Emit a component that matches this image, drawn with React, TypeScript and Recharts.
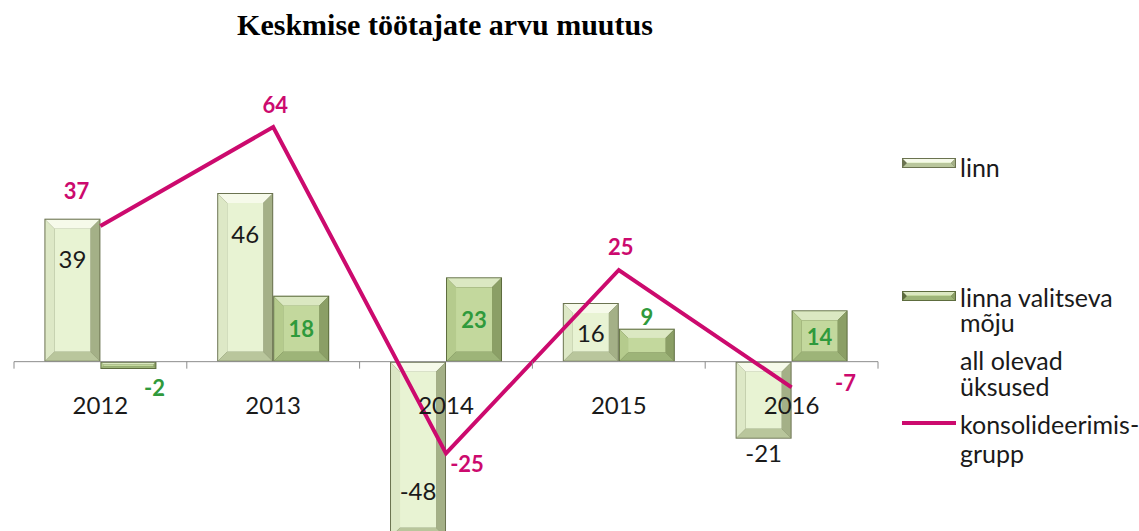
import React from 'react';
import { ComposedChart, Bar, Line, XAxis, YAxis, ReferenceLine, LabelList } from 'recharts';

const years = ['2012', '2013', '2014', '2015', '2016'];
const linn = [39, 46, -48, 16, -21];
const moju = [-2, 18, 23, 9, 14];
const konso = [37, 64, -25, 25, -7];
const axisZero = [0, 0, 0, 0, 0];

const data = years.map((y, i) => ({ year: y, linn: linn[i], moju: moju[i], konso: konso[i], zero: axisZero[i] }));

const W = 1139;
const H = 560;
const MARGIN = { top: 105, right: 261, bottom: 15, left: 14 };
const DOMAIN: [number, number] = [-50, 70];
const FONT = 'Lato, "Noto Sans", sans-serif';
const MAGENTA = '#cc0a6e';
const GREEN_TXT = '#2f9a3c';

const palettes = {
  linn: { edge: '#6b7350', face: '#e8f3d3', top: '#f6faea', left: '#dde8c6', right: '#a4b087', bottom: '#b9c69c' },
  moju: { edge: '#5d6c3e', face: '#c3d89d', top: '#dbe8c2', left: '#b5cb8d', right: '#8b9f66', bottom: '#9db478' },
};

const makeBevel = (p: any) => (props: any) => {
  let { x, y, width, height } = props;
  if (height < 0) { y = y + height; height = -height; }
  if (!width || !height) return null;
  const b = Math.max(1, Math.min(9, width / 4, height / 4));
  const x2 = x + width, y2 = y + height;
  return (
    <g>
      <rect x={x} y={y} width={width} height={height} fill={p.edge} />
      <polygon points={`${x + 1},${y + 1} ${x2 - 1},${y + 1} ${x2 - 1 - b},${y + 1 + b} ${x + 1 + b},${y + 1 + b}`} fill={p.top} />
      <polygon points={`${x + 1},${y + 1} ${x + 1 + b},${y + 1 + b} ${x + 1 + b},${y2 - 1 - b} ${x + 1},${y2 - 1}`} fill={p.left} />
      <polygon points={`${x2 - 1},${y + 1} ${x2 - 1},${y2 - 1} ${x2 - 1 - b},${y2 - 1 - b} ${x2 - 1 - b},${y + 1 + b}`} fill={p.right} />
      <polygon points={`${x + 1},${y2 - 1} ${x2 - 1},${y2 - 1} ${x2 - 1 - b},${y2 - 1 - b} ${x + 1 + b},${y2 - 1 - b}`} fill={p.bottom} />
      <rect x={x + 1 + b} y={y + 1 + b} width={Math.max(0, width - 2 - 2 * b)} height={Math.max(0, height - 2 - 2 * b)} fill={p.face} />
    </g>
  );
};

const norm = (props: any) => {
  let { x, y, width, height } = props;
  if (height < 0) { y = y + height; height = -height; }
  return { x, y, width, height };
};

const LinnLabel = (props: any) => {
  const { value } = props;
  const { x, y, width, height } = norm(props);
  let cy: number;
  if (value >= 0) cy = y + Math.min(40, height / 2);
  else if (height > 100) cy = y + height - 47;
  else cy = y + height + 14;
  return (
    <text x={x + width / 2} y={cy} textAnchor="middle" dominantBaseline="central" fontFamily={FONT} fontSize={24} fill="#1a1a1a">
      {value}
    </text>
  );
};

const MojuLabel = (props: any) => {
  const { value } = props;
  const { x, y, width, height } = norm(props);
  let cy: number;
  if (height > 40) cy = y + height / 2;
  else if (value >= 0) cy = y - 12;
  else cy = y + height + 18;
  const cx = value < 0 ? x + width - 2 : x + width / 2;
  return (
    <text x={cx} y={cy} textAnchor="middle" dominantBaseline="central" fontFamily={FONT} fontWeight="bold" fontSize={22} fill={GREEN_TXT}>
      {value}
    </text>
  );
};

const lineLabelOffsets = [
  { dx: -24, dy: -36 },
  { dx: 2, dy: -23 },
  { dx: 21, dy: 10 },
  { dx: 2, dy: -24 },
  { dx: 54, dy: -5 },
];

const KonsoLabel = (props: any) => {
  const { x, y, value, index } = props;
  const o = lineLabelOffsets[index] || { dx: 0, dy: -20 };
  return (
    <text x={x + o.dx} y={y + o.dy} textAnchor="middle" dominantBaseline="central" fontFamily={FONT} fontWeight="bold" fontSize={22} fill={MAGENTA}>
      {value}
    </text>
  );
};

const plotW = W - MARGIN.left - MARGIN.right;
const halfBand = plotW / years.length / 2;

const AxisLabel = (props: any) => {
  const { x, y, index } = props;
  const isLast = index === years.length - 1;
  return (
    <g>
      <line x1={x - halfBand} x2={x - halfBand} y1={y} y2={y + 7} stroke="#8c8c8c" strokeWidth={1} />
      {isLast && <line x1={x + halfBand} x2={x + halfBand} y1={y} y2={y + 7} stroke="#8c8c8c" strokeWidth={1} />}
      <text x={x} y={y + 43} textAnchor="middle" dominantBaseline="central" fontFamily={FONT} fontSize={24} fill="#1a1a1a">
        {years[index]}
      </text>
    </g>
  );
};

const LegendIcon = ({ p }: any) => (
  <svg width={54} height={12} style={{ display: 'block' }}>
    <rect x={0} y={1} width={54} height={10} fill={p.edge} />
    <polygon points="1,2 53,2 49,6 5,6" fill={p.top} />
    <rect x={5} y={5} width={44} height={2} fill={p.face} />
    <polygon points="1,10 53,10 49,6 5,6" fill={p.bottom} />
    <polygon points="53,2 53,10 49,6" fill={p.right} />
  </svg>
);

const LegendBox = () => {
  const txt: React.CSSProperties = { fontFamily: FONT, fontSize: 25, color: '#1a1a1a', position: 'absolute', left: 58, whiteSpace: 'pre', lineHeight: '25px' };
  return (
    <div style={{ position: 'absolute', left: 902, top: 140, width: 237, height: 340 }}>
      <div style={{ position: 'absolute', left: 0, top: 17 }}><LegendIcon p={palettes.linn} /></div>
      <div style={{ ...txt, top: 15 }}>linn</div>
      <div style={{ position: 'absolute', left: 0, top: 150 }}><LegendIcon p={palettes.moju} /></div>
      <div style={{ ...txt, top: 145 }}>{'linna valitseva\nmõju'}</div>
      <div style={{ ...txt, top: 207, lineHeight: '26px' }}>{'all olevad\nüksused'}</div>
      <div style={{ position: 'absolute', left: 0, top: 281, width: 54, height: 4, background: MAGENTA }} />
      <div style={{ ...txt, top: 270, lineHeight: '29px' }}>{'konsolideerimis-\ngrupp'}</div>
    </div>
  );
};

export default function App() {
  return (
    <div style={{ position: 'fixed', left: 0, top: 0, width: W, height: 531, overflow: 'hidden', background: '#fff' }}>
      <div style={{ position: 'absolute', left: 0, top: 8, width: 890, textAlign: 'center', fontFamily: '"Liberation Serif", "Times New Roman", serif', fontWeight: 'bold', fontSize: 30, color: '#000' }}>
        Keskmise töötajate arvu muutus
      </div>
      <ComposedChart width={W} height={H} data={data} margin={MARGIN} barCategoryGap="17.6%" barGap={0} style={{ position: 'absolute', left: 0, top: 0 }}>
        <XAxis dataKey="year" hide />
        <YAxis domain={DOMAIN} hide allowDataOverflow />
        <ReferenceLine y={0} stroke="#8c8c8c" strokeWidth={1} />
        <Bar dataKey="linn" name="linn" isAnimationActive={false} shape={makeBevel(palettes.linn)}>
          <LabelList dataKey="linn" content={LinnLabel} />
        </Bar>
        <Bar dataKey="moju" name="linna valitseva mõju all olevad üksused" isAnimationActive={false} shape={makeBevel(palettes.moju)}>
          <LabelList dataKey="moju" content={MojuLabel} />
        </Bar>
        <Line dataKey="zero" isAnimationActive={false} stroke="none" dot={false} activeDot={false} legendType="none">
          <LabelList dataKey="zero" content={AxisLabel} />
        </Line>
        <Line dataKey="konso" name="konsolideerimisgrupp" type="linear" stroke={MAGENTA} strokeWidth={4} dot={false} activeDot={false} isAnimationActive={false}>
          <LabelList dataKey="konso" content={KonsoLabel} />
        </Line>
      </ComposedChart>
      <LegendBox />
    </div>
  );
}
